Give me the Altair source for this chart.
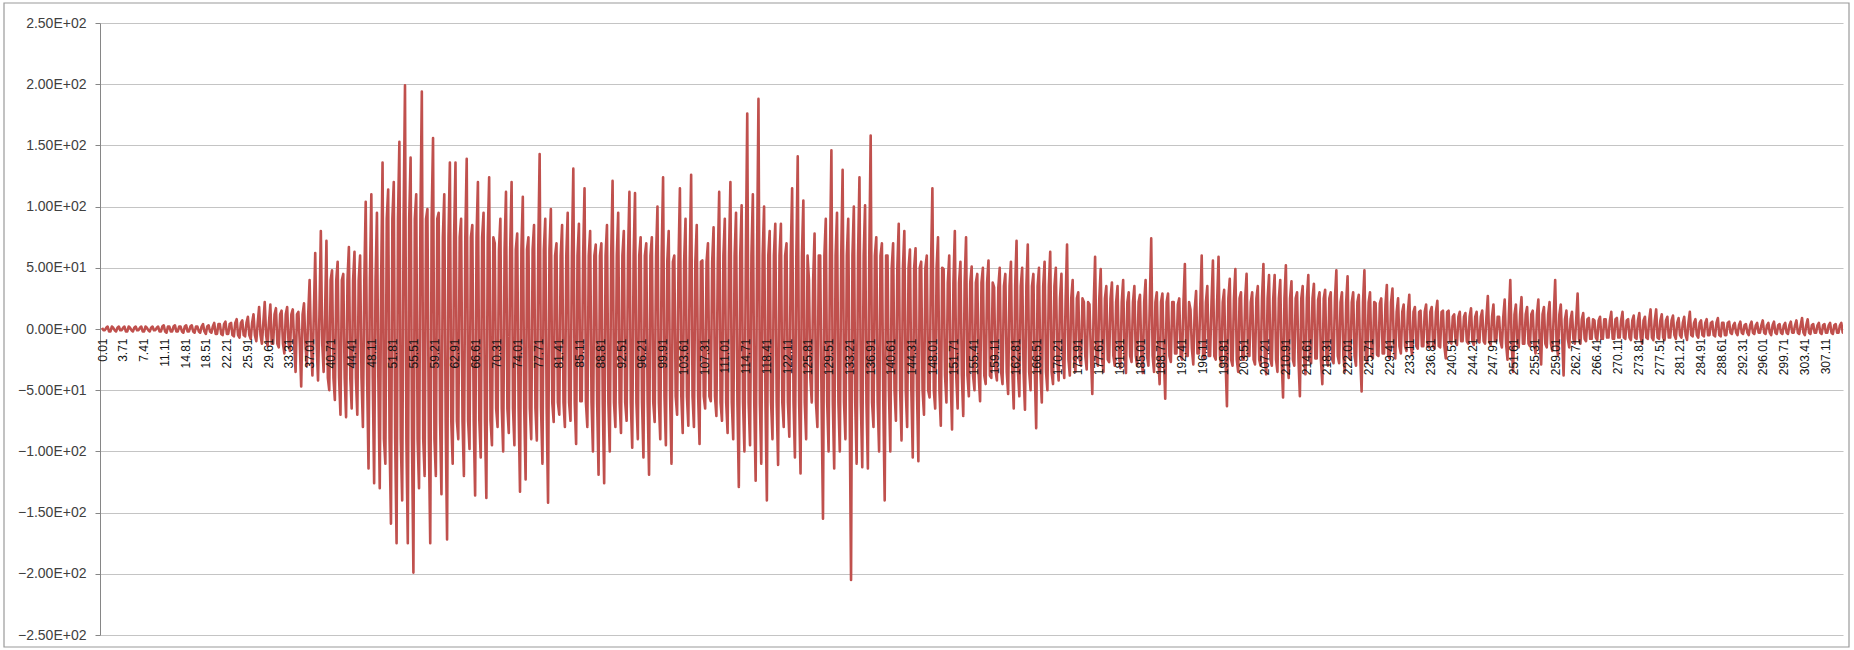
import altair as alt
import pandas as pd

# Per-second peak amplitudes of the record (upper = positive peak, lower = negative peak)
upper = [
    1, 2, 1, 2, 2, 1, 2, 2, 1, 2,
    2, 3, 2, 3, 2, 3, 3, 2, 4, 3,
    5, 4, 6, 5, 8, 7, 10, 12, 18, 22,
    20, 17, 15, 18, 16, 14, 21, 40, 62, 80,
    72, 48, 55, 45, 67, 63, 60, 104, 110, 95,
    136, 114, 120, 153, 199, 140, 110, 194, 98, 156,
    95, 110, 136, 136, 90, 139, 85, 120, 95, 124,
    70, 90, 112, 120, 78, 108, 75, 85, 143, 90,
    98, 70, 85, 95, 131, 86, 115, 80, 69, 70,
    85, 121, 95, 80, 112, 111, 75, 70, 75, 100,
    124, 80, 60, 115, 90, 126, 85, 56, 70, 83,
    112, 90, 120, 95, 101, 176, 110, 188, 100, 80,
    86, 86, 70, 115, 141, 105, 40, 78, 60, 90,
    146, 95, 130, 90, 100, 124, 101, 158, 75, 70,
    60, 70, 86, 80, 65, 66, 55, 60, 115, 75,
    49, 60, 80, 55, 75, 51, 45, 50, 56, 34,
    50, 45, 55, 72, 50, 69, 45, 50, 55, 63,
    50, 45, 69, 40, 30, 22, 20, 59, 49, 35,
    38, 35, 40, 30, 35, 28, 40, 74, 30, 29,
    29, 22, 25, 53, 16, 31, 60, 35, 56, 59,
    32, 41, 49, 30, 45, 30, 35, 53, 44, 44,
    40, 52, 39, 30, 35, 44, 37, 30, 32, 30,
    48, 30, 43, 30, 28, 48, 30, 21, 25, 36,
    33, 25, 20, 28, 18, 15, 20, 18, 23, 15,
    15, 12, 14, 13, 17, 14, 15, 27, 20, 10,
    24, 40, 20, 26, 18, 15, 24, 18, 22, 40,
    20, 15, 14, 29, 13, 9, 7, 10, 8, 14,
    9, 14, 8, 11, 13, 10, 16, 16, 12, 10,
    11, 9, 10, 14, 8, 7, 8, 6, 9, 5,
    6, 5, 6, 4, 6, 5, 7, 5, 6, 4,
    5, 6, 7, 9, 8, 4, 5, 4, 5, 4, 5,
]

lower = [
    -1, -2, -2, -1, -2, -2, -1, -2, -2, -1,
    -2, -3, -2, -2, -3, -2, -3, -3, -4, -3,
    -4, -5, -4, -6, -7, -6, -8, -10, -12, -14,
    -12, -15, -20, -18, -35, -47, -30, -38, -42, -35,
    -50, -58, -70, -72, -65, -70, -80, -114, -126, -130,
    -110, -159, -175, -140, -175, -199, -130, -120, -175, -120,
    -135, -172, -110, -90, -120, -98, -136, -105, -138, -95,
    -80, -100, -85, -95, -133, -123, -90, -91, -110, -142,
    -76, -70, -80, -75, -94, -59, -80, -100, -119, -126,
    -100, -80, -85, -75, -97, -90, -105, -119, -76, -90,
    -95, -110, -70, -85, -79, -80, -94, -65, -59, -71,
    -75, -85, -90, -129, -100, -95, -124, -110, -140, -90,
    -111, -80, -88, -105, -118, -90, -60, -80, -155, -100,
    -114, -100, -90, -205, -110, -113, -114, -80, -100, -140,
    -100, -75, -91, -80, -105, -108, -70, -56, -65, -79,
    -60, -82, -65, -71, -55, -50, -59, -45, -40, -42,
    -45, -53, -65, -55, -66, -50, -81, -60, -50, -45,
    -42, -40, -38, -35, -30, -33, -53, -30, -35, -27,
    -30, -32, -36, -27, -30, -36, -30, -35, -45, -57,
    -27, -20, -25, -22, -29, -20, -24, -22, -25, -30,
    -63, -30, -35, -25, -22, -29, -30, -37, -30, -35,
    -56, -40, -30, -55, -37, -28, -24, -45, -30, -28,
    -28, -35, -25, -30, -51, -28, -24, -22, -20, -24,
    -24, -20, -18, -21, -16, -14, -15, -16, -15, -24,
    -12, -13, -10, -12, -13, -11, -12, -13, -10, -15,
    -25, -35, -15, -12, -14, -20, -29, -15, -18, -22,
    -38, -15, -12, -12, -10, -8, -9, -8, -7, -8,
    -7, -8, -9, -8, -12, -8, -9, -8, -9, -7,
    -8, -7, -9, -6, -7, -6, -5, -6, -6, -5,
    -4, -5, -4, -5, -4, -3, -4, -5, -4, -4,
    -4, -3, -4, -5, -4, -3, -4, -3, -4, -3, -3,
]

# Amplitude of the dense core oscillation, one value per 10-second window
core = [
    2, 2, 5, 12, 40, 90, 75, 65, 60, 60,
    55, 60, 60, 60, 50, 38, 35, 25, 22, 22,
    25, 25, 22, 14, 10, 12, 8, 7, 5, 3,
    3, 3,
]

# Category labels shown along the time axis
time_labels = [
    0.01, 3.71, 7.41, 11.11, 14.81, 18.51, 22.21, 25.91, 29.61, 33.31,
    37.01, 40.71, 44.41, 48.11, 51.81, 55.51, 59.21, 62.91, 66.61, 70.31,
    74.01, 77.71, 81.41, 85.11, 88.81, 92.51, 96.21, 99.91, 103.61, 107.31,
    111.01, 114.71, 118.41, 122.11, 125.81, 129.51, 133.21, 136.91, 140.61, 144.31,
    148.01, 151.71, 155.41, 159.11, 162.81, 166.51, 170.21, 173.91, 177.61, 181.31,
    185.01, 188.71, 192.41, 196.11, 199.81, 203.51, 207.21, 210.91, 214.61, 218.31,
    222.01, 225.71, 229.41, 233.11, 236.81, 240.51, 244.21, 247.91, 251.61, 255.31,
    259.01, 262.71, 266.41, 270.11, 273.81, 277.51, 281.21, 284.91, 288.61, 292.31,
    296.01, 299.71, 303.41, 307.11,
]

y_ticks = [-250, -200, -150, -100, -50, 0, 50, 100, 150, 200, 250]

# One trace per second: positive peak, core trough, negative peak, core crest
times, values = [], []
for i, (hi, lo) in enumerate(zip(upper, lower)):
    c = min(core[i // 10], hi, -lo)
    times += [i, i + 0.25, i + 0.5, i + 0.75]
    values += [hi, -c, lo, c]
trace = pd.DataFrame({"t": times, "v": values})

W, H = 1743, 612

sci_label = (
    "datum.value == 0 ? '0.00E+00' : "
    "format(datum.value / (abs(datum.value) >= 100 ? 100 : 10), '.2f') + "
    "(abs(datum.value) >= 100 ? 'E+02' : 'E+01')"
)

line = (
    alt.Chart(trace)
    .mark_line(color="#C0504D", strokeWidth=2.6, strokeJoin="round", clip=True)
    .encode(
        x=alt.X(
            "t:Q",
            scale=alt.Scale(domain=[-0.36, 310.3], nice=False, zero=False),
            axis=alt.Axis(
                values=time_labels,
                format=".2f",
                labelAngle=270,
                labelFontSize=12,
                labelFont="Liberation Sans",
                labelColor="#141414",
                labelPadding=9,
                labelOverlap=False,
                labelFlush=False,
                ticks=False,
                domain=False,
                grid=False,
                offset=-H / 2,
                zindex=1,
                title=None,
            ),
        ),
        y=alt.Y(
            "v:Q",
            scale=alt.Scale(domain=[-250, 250], nice=False),
            axis=alt.Axis(
                values=y_ticks,
                labelExpr=sci_label,
                labelFontSize=14,
                labelFont="Liberation Sans",
                labelColor="#404040",
                labelPadding=9,
                tickSize=5,
                tickColor="#868686",
                domainColor="#868686",
                gridColor="#c4c4c4",
                gridWidth=1.2,
                title=None,
            ),
        ),
    )
)

# Outer chart border
frame = (
    alt.Chart(pd.DataFrame({"k": [0]}))
    .mark_rect(fill=None, stroke="#9a9a9a", strokeWidth=1.2, clip=False)
    .encode(
        x=alt.value(-96),
        x2=alt.value(1749),
        y=alt.value(-20),
        y2=alt.value(624),
    )
)

chart = (
    alt.layer(line, frame)
    .properties(
        width=W,
        height=H,
        autosize=alt.AutoSizeParams(type="none"),
        padding={"left": 100, "top": 23, "right": 11, "bottom": 15},
        background="white",
    )
    .configure_view(stroke=None)
)

chart.save("out.html", embed_options={"renderer": "svg", "actions": False})
